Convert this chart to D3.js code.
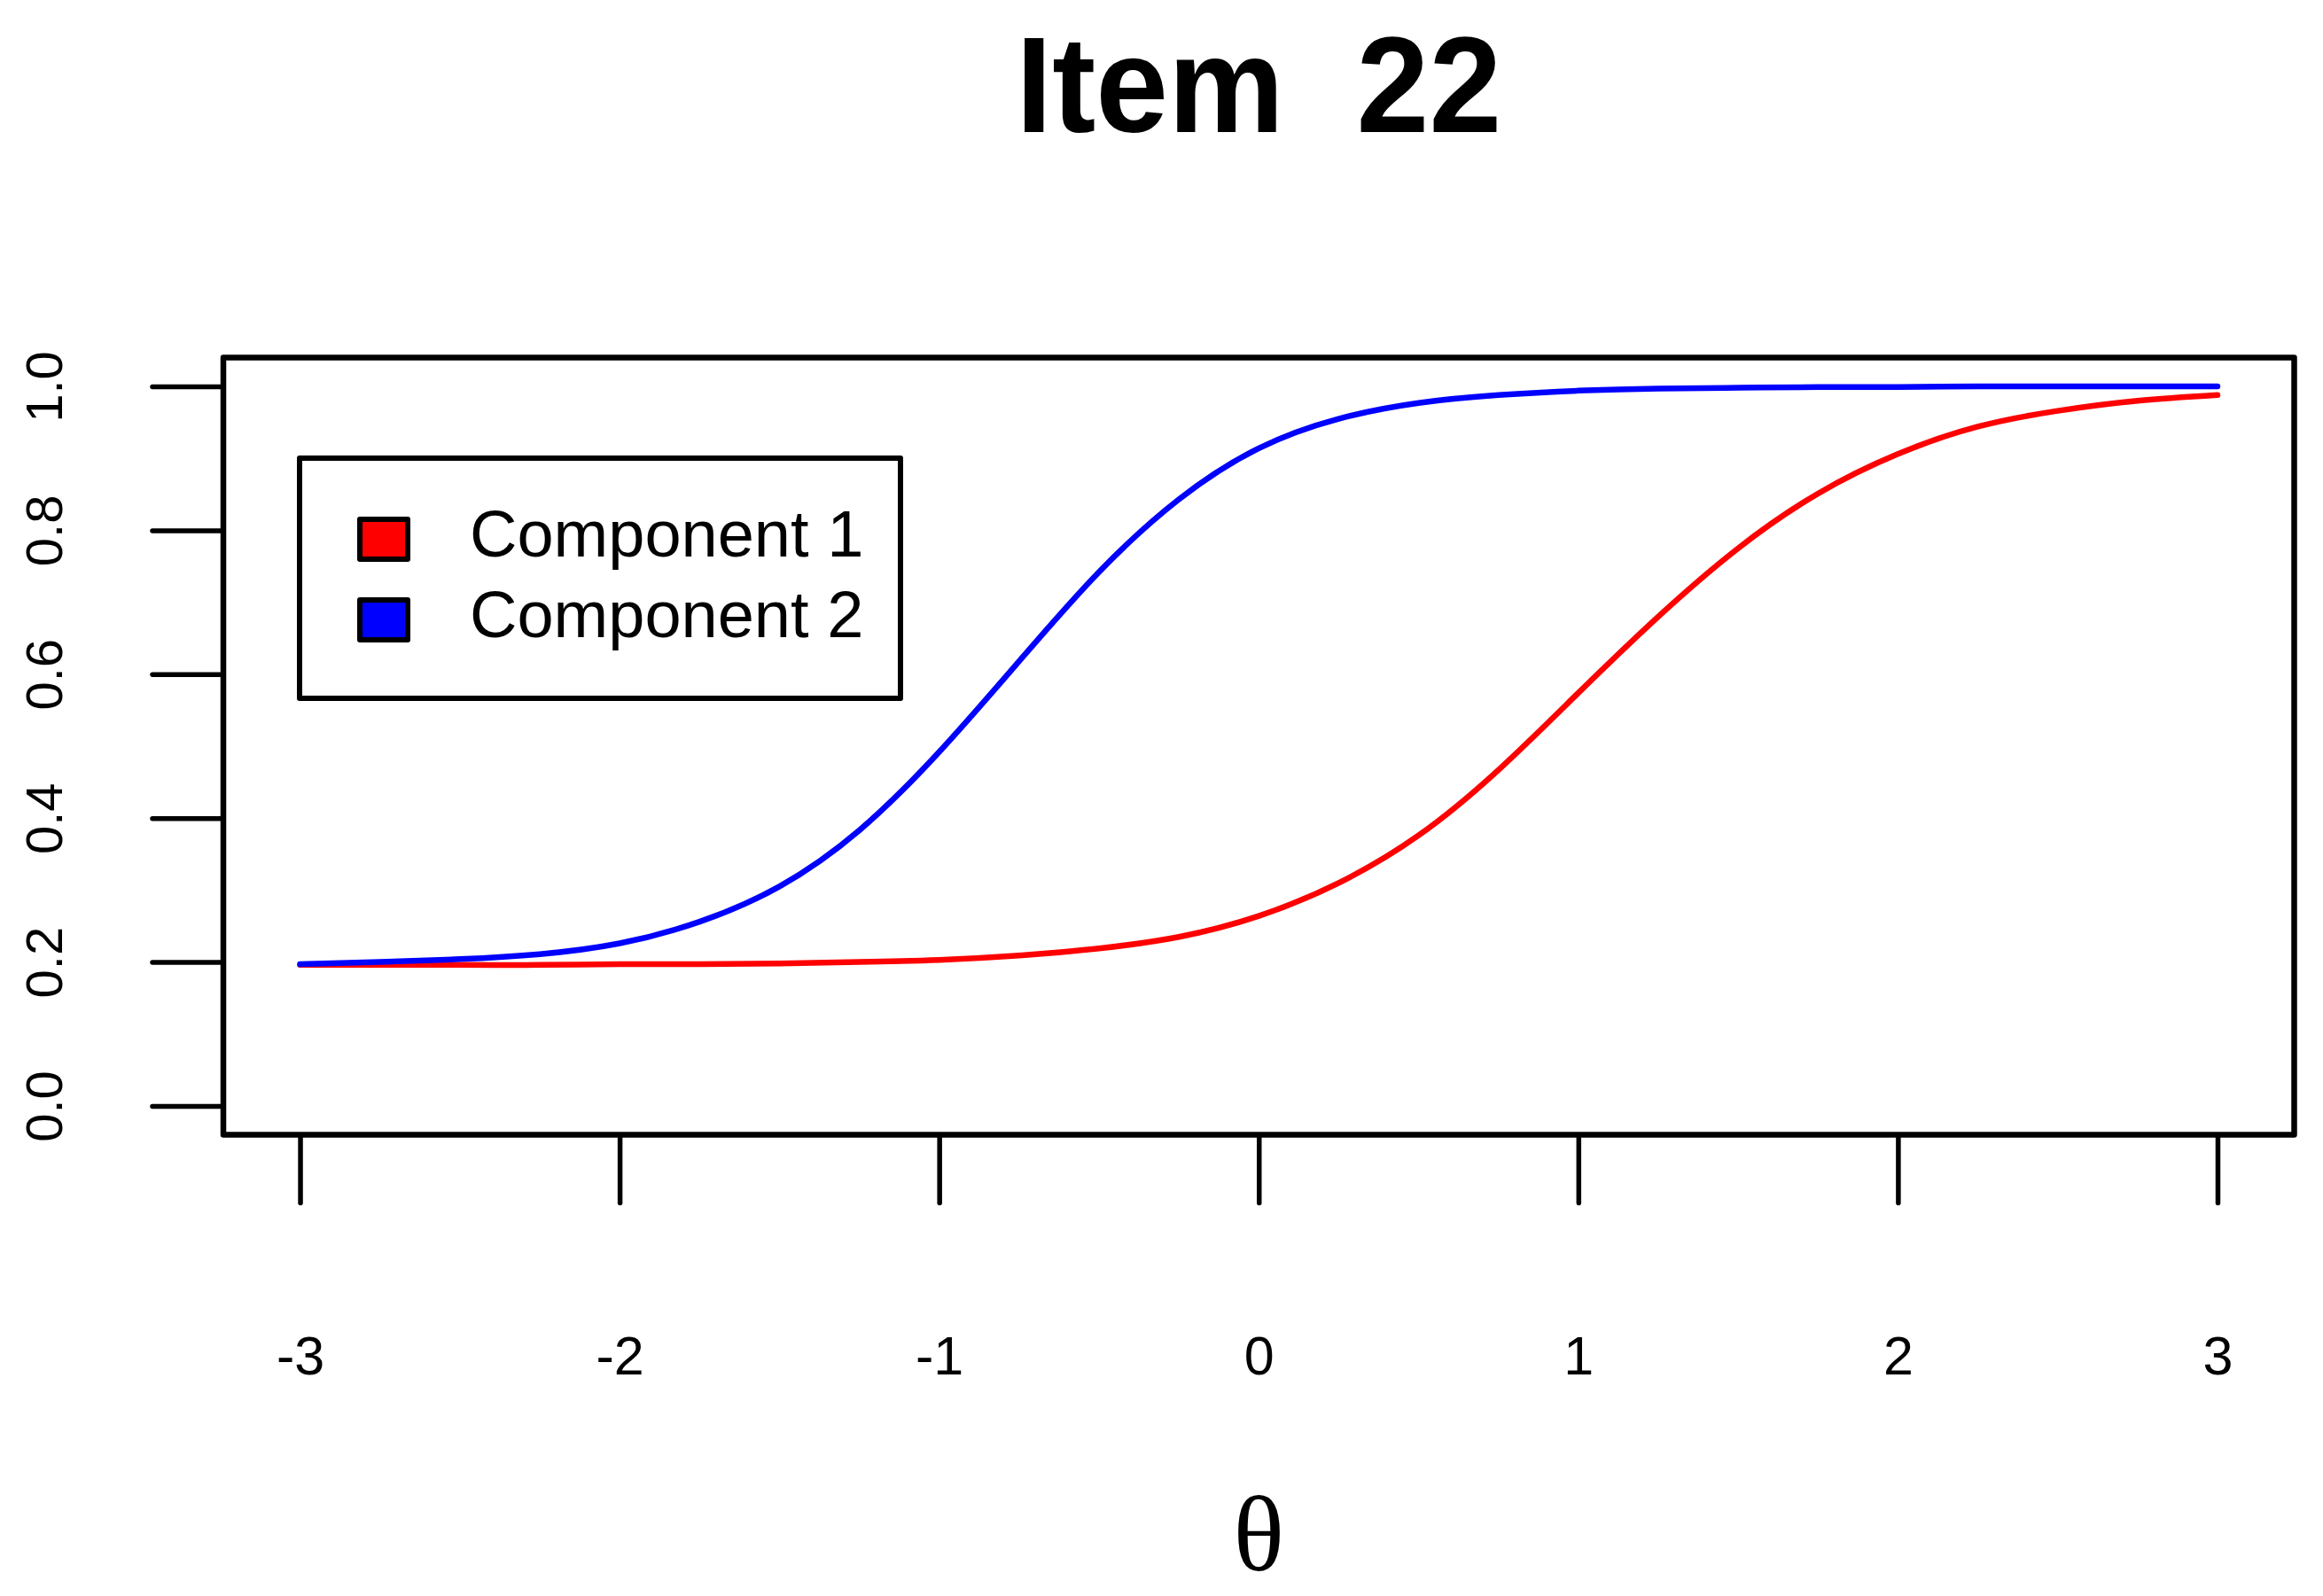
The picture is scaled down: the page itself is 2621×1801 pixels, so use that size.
<!DOCTYPE html>
<html>
<head>
<meta charset="utf-8">
<script src="https://cdn.jsdelivr.net/npm/d3@7"></script>
<style>
  html, body { margin: 0; padding: 0; background: #fff; }
  svg { display: block; }
  text { font-family: "Liberation Sans", Arial, Helvetica, sans-serif; fill: #000; }
</style>
</head>
<body>
<svg id="chart" width="2621" height="1801"></svg>
<script>
// ---- Data ----
const titleText = "Item  22";
const xLabel = "θ";
const seriesNames = ["Component 1", "Component 2"];
const seriesColors = ["#FF0000", "#0000FF"];
const xTicks = [-3, -2, -1, 0, 1, 2, 3];
const yTicks = [0.0, 0.2, 0.4, 0.6, 0.8, 1.0];

const theta = [-3, -2.75, -2.5, -2.25, -2, -1.75, -1.5, -1.25, -1, -0.75, -0.5, -0.25,
               0, 0.25, 0.5, 0.75, 1, 1.25, 1.5, 1.75, 2, 2.25, 2.5, 2.75, 3];
// Component 1 (red)
const comp1 = [0.196, 0.196, 0.196, 0.196, 0.197, 0.197, 0.198, 0.200, 0.203, 0.209, 0.219, 0.235,
               0.264, 0.310, 0.376, 0.467, 0.574, 0.680, 0.775, 0.851, 0.906, 0.944, 0.966, 0.980, 0.988];
// Component 2 (blue)
const comp2 = [0.197, 0.200, 0.204, 0.211, 0.226, 0.256, 0.305, 0.383, 0.492, 0.618, 0.742, 0.843,
               0.914, 0.955, 0.977, 0.988, 0.994, 0.997, 0.998, 0.999, 0.999, 1.000, 1.000, 1.000, 1.000];

// ---- Layout ----
const svg = d3.select("#chart");
const plot = { left: 252, right: 2588.5, top: 403.5, bottom: 1280.5 };

const x = d3.scaleLinear().domain([-3.24, 3.24]).range([plot.left, plot.right]);
const y = d3.scaleLinear().domain([-0.04, 1.04]).range([plot.bottom, plot.top]);

// Title
svg.append("text")
  .attr("x", (plot.left + plot.right) / 2)
  .attr("y", 149)
  .attr("text-anchor", "middle")
  .attr("font-size", 154)
  .attr("font-weight", "bold")
  .style("white-space", "pre")
  .attr("textLength", 548)
  .attr("lengthAdjust", "spacingAndGlyphs")
  .text(titleText);

// Curves
const line = d3.line()
  .x(d => x(d[0]))
  .y(d => y(d[1]))
  .curve(d3.curveNatural);

[comp1, comp2].forEach((vals, i) => {
  svg.append("path")
    .datum(theta.map((t, j) => [t, vals[j]]))
    .attr("d", line)
    .attr("fill", "none")
    .attr("stroke", seriesColors[i])
    .attr("stroke-width", 6.5)
    .attr("stroke-linecap", "round")
    .attr("stroke-linejoin", "round");
});

// Y axis
const yAxis = svg.append("g")
  .attr("transform", `translate(${plot.left},0)`)
  .call(d3.axisLeft(y).tickValues(yTicks).tickSizeInner(80).tickSizeOuter(0).tickFormat(d3.format(".1f")));
yAxis.select(".domain").remove();
yAxis.selectAll(".tick line").attr("stroke", "#000").attr("stroke-width", 5.5).attr("stroke-linecap", "round");
yAxis.selectAll(".tick text")
  .attr("x", null).attr("dy", null)
  .attr("text-anchor", "middle")
  .attr("font-size", 58)
  .attr("font-family", "'Liberation Sans', Arial, sans-serif")
  .attr("transform", `translate(${70 - plot.left},0) rotate(-90)`);

// X axis
const xAxis = svg.append("g")
  .attr("transform", `translate(0,${plot.bottom})`)
  .call(d3.axisBottom(x).tickValues(xTicks).tickSizeInner(77).tickSizeOuter(0).tickFormat(d3.format("d")));
xAxis.select(".domain").remove();
xAxis.selectAll(".tick line").attr("stroke", "#000").attr("stroke-width", 5.5).attr("stroke-linecap", "round");
xAxis.selectAll(".tick text")
  .attr("y", 1551 - plot.bottom)
  .attr("dy", null)
  .attr("font-size", 61)
  .attr("font-family", "'Liberation Sans', Arial, sans-serif")
  .text(d => d < 0 ? "-" + Math.abs(d) : String(d));

// Plot box
svg.append("rect")
  .attr("x", plot.left).attr("y", plot.top)
  .attr("width", plot.right - plot.left).attr("height", plot.bottom - plot.top)
  .attr("fill", "none").attr("stroke", "#000").attr("stroke-width", 6.5)
  .attr("stroke-linejoin", "round");

// X label
svg.append("text")
  .attr("x", (plot.left + plot.right) / 2)
  .attr("y", 1772)
  .attr("text-anchor", "middle")
  .attr("font-size", 120)
  .style("font-family", "'Liberation Serif', 'Times New Roman', serif")
  .text(xLabel);

// Legend
const legend = svg.append("g");
legend.append("rect")
  .attr("x", 338).attr("y", 517).attr("width", 678).attr("height", 271)
  .attr("fill", "#fff").attr("stroke", "#000").attr("stroke-width", 6)
  .attr("stroke-linejoin", "round");
const rows = legend.selectAll("g.row").data(seriesNames).enter().append("g").attr("class", "row")
  .attr("transform", (d, i) => `translate(0,${i * 91})`);
rows.append("rect")
  .attr("x", 406).attr("y", 586).attr("width", 54).attr("height", 45)
  .attr("fill", (d, i) => seriesColors[i])
  .attr("stroke", "#000").attr("stroke-width", 6).attr("stroke-linejoin", "round");
rows.append("text")
  .attr("x", 530).attr("y", 628)
  .attr("font-size", 74)
  .text(d => d);
</script>
</body>
</html>
